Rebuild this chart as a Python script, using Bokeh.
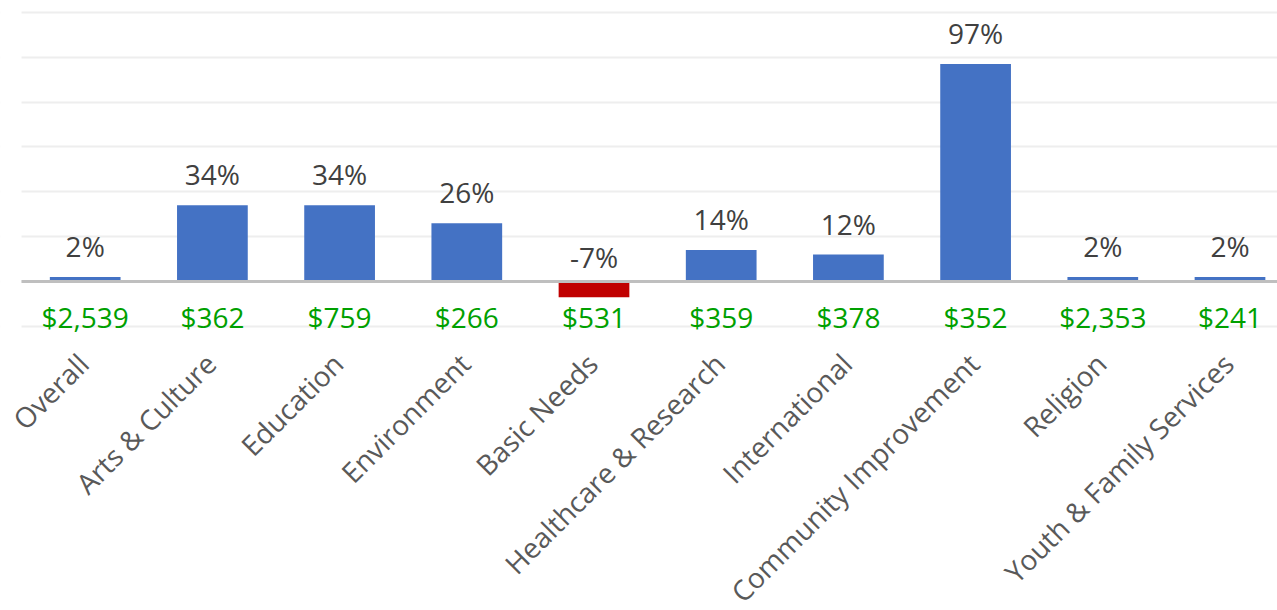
import numpy as np
from bokeh.plotting import figure
from bokeh.models import ColumnDataSource, Range1d, FixedTicker, Span, LabelSet, BoxAnnotation
from bokeh.core.properties import value
from bokeh.embed import file_html
from bokeh.resources import INLINE

# ---- data ----
categories = ["Overall", "Arts & Culture", "Education", "Environment", "Basic Needs",
              "Healthcare & Research", "International", "Community Improvement",
              "Religion", "Youth & Family Services"]
pct_change = [2, 34, 34, 26, -7, 14, 12, 97, 2, 2]
avg_gift = ["$2,539", "$362", "$759", "$266", "$531", "$359", "$378", "$352",
            "$2,353", "$241"]
grid_ticks = [-20, 0, 20, 40, 60, 80, 100, 120]

# ---- layout constants ----
PX = 2.243            # pixels per percentage point
CAT = 127.2           # pixels per category
FONT = "Open Sans"
X0, X1 = -84.7 / CAT, (1277 - 84.7) / CAT
Y0, Y1 = -329 / PX, 281 / PX
PLOT_LEFT = -63.7 / CAT   # where the plot area (gridlines) begins

n = len(categories)
xs = np.arange(n)
v = np.array(pct_change, dtype=float)
colors = np.where(v >= 0, "#4472C4", "#C00000").tolist()

pct_y = np.where(v >= 0, v, 0) + np.where(v >= 0, 31, 24.3) / PX
gift_y = np.full(n, -35.5 / PX)
lab_x = xs - 0.015
lab_y = np.full(n, -34.3)

src = ColumnDataSource(dict(
    x=xs, top=v, color=colors,
    pct=[f"{int(a)}%" for a in pct_change], pct_y=pct_y,
    gift=avg_gift, gift_y=gift_y,
    cat=categories, lab_x=lab_x, lab_y=lab_y,
))

p = figure(width=1277, height=610,
           x_range=Range1d(X0, X1), y_range=Range1d(Y0, Y1),
           output_backend="svg", toolbar_location=None,
           x_axis_location=None, y_axis_location=None,
           min_border_left=0, min_border_right=0, min_border_top=0, min_border_bottom=0)
p.outline_line_color = None
p.background_fill_color = "white"
p.border_fill_color = "white"
p.xgrid.visible = False
p.ygrid.ticker = FixedTicker(ticks=grid_ticks)
p.ygrid.grid_line_color = "#EEEEEE"
p.ygrid.grid_line_width = 2

# mask the grid to the left of the plot area
p.add_layout(BoxAnnotation(left=X0 - 1, right=PLOT_LEFT, bottom=Y0, top=Y1,
                           fill_color="white", fill_alpha=1.0, line_alpha=0,
                           level="underlay"))

p.vbar(x="x", top="top", bottom=0, width=0.556, fill_color="color",
       line_color=None, source=src)

p.segment(x0=[PLOT_LEFT], x1=[X1 + 1], y0=[0], y1=[0],
          line_color="#BFBFBF", line_width=3)

p.text(x="x", y="pct_y", text="pct", source=src, text_align="center",
       text_baseline="middle", text_font=value(FONT), text_font_size="28px",
       text_color="#404040")
p.text(x="x", y="gift_y", text="gift", source=src, text_align="center",
       text_baseline="middle", text_font=value(FONT), text_font_size="28px",
       text_color="#00A000")

labels = LabelSet(x="lab_x", y="lab_y", text="cat", source=src, angle=np.pi / 4,
                  text_align="right", text_baseline="middle",
                  text_font=value(FONT), text_font_size="28px", text_color="#595959")
p.add_layout(labels)

open("out.html", "w").write(file_html(p, INLINE))
